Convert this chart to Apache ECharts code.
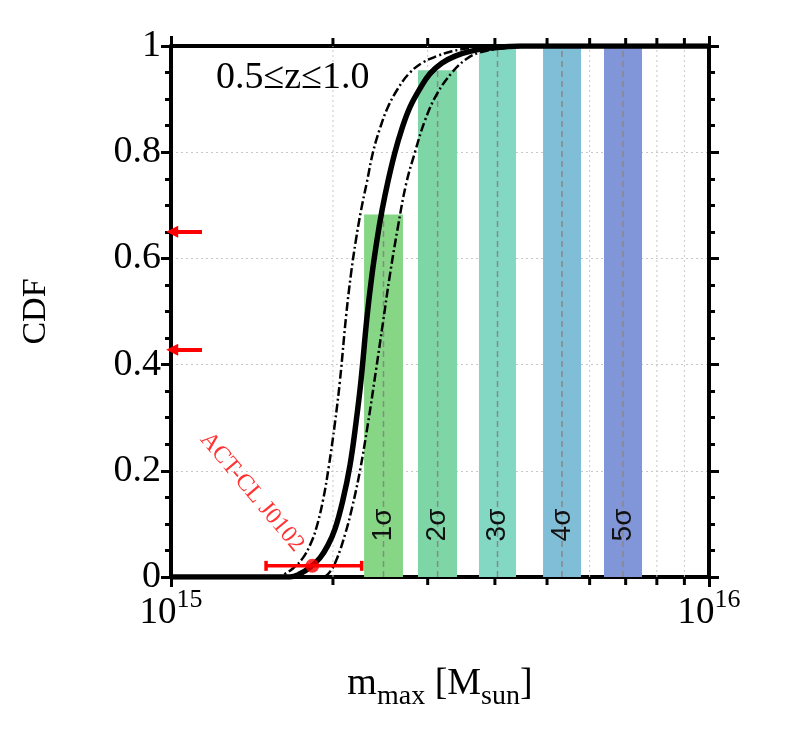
<!DOCTYPE html>
<html>
<head>
<meta charset="utf-8">
<script src="https://cdn.jsdelivr.net/npm/echarts@6/dist/echarts.min.js"></script>
<style>
  html, body { margin: 0; background: #fff; }
  #chart { width: 810px; height: 735px; }
</style>
</head>
<body>
<div id="chart"></div>
<script>
// masses in units of 1e15 Msun
const cdfMid = [[1.0,0],[1.664,0],[1.737,0.006],[1.813,0.018],[1.892,0.036],[1.958,0.06],[2.017,0.09],[2.087,0.145],[2.151,0.21],[2.207,0.29],[2.255,0.37],[2.314,0.49],[2.364,0.57],[2.415,0.635],[2.467,0.69],[2.531,0.745],[2.608,0.80],[2.688,0.845],[2.781,0.885],[2.903,0.92],[3.03,0.948],[3.19,0.968],[3.373,0.981],[3.596,0.99],[3.917,0.996],[4.454,1.0],[10,1.0]]
const cdfLow = [[1.0,0],[1.574,0],[1.629,0.006],[1.693,0.018],[1.759,0.036],[1.813,0.06],[1.86,0.09],[1.917,0.145],[1.966,0.21],[2.017,0.29],[2.061,0.37],[2.115,0.49],[2.16,0.57],[2.207,0.635],[2.255,0.69],[2.314,0.745],[2.374,0.80],[2.446,0.845],[2.531,0.885],[2.642,0.92],[2.769,0.948],[2.928,0.968],[3.122,0.981],[3.329,0.99],[3.596,0.996],[4.088,1.0],[10,1.0]]
const cdfHigh = [[1.0,0],[1.909,0],[1.975,0.01],[2.035,0.035],[2.106,0.08],[2.17,0.13],[2.245,0.20],[2.324,0.29],[2.405,0.39],[2.478,0.48],[2.553,0.57],[2.642,0.66],[2.735,0.74],[2.841,0.80],[2.966,0.86],[3.122,0.91],[3.329,0.95],[3.535,0.975],[3.752,0.988],[4.088,0.995],[4.648,0.999],[5.285,1.0],[10,1.0]]

const sigmaNames = ['1σ','2σ','3σ','4σ','5σ']
const sigmaLo = [2.285, 2.878, 3.736, 4.915, 6.38]
const sigmaHi = [2.699, 3.402, 4.378, 5.782, 7.507]
const sigmaMid = [2.483, 3.13, 4.045, 5.33, 6.92]
const sigmaCdf = [0.6827, 0.9545, 0.9973, 0.99994, 1.0]
const sigmaColors = ['#86d686', '#7ed6a6', '#83d8c4', '#80bed8', '#8096d9']

const minorTicks = [2, 3, 4, 5, 6, 7, 8, 9]

// ACT-CL J0102 point with error bar
const cluster = [1.831, 0.021]
const clusterErr = [1.502, 2.262]
const clusterLabelAt = [1.414, 0.160]

// red arrows on the left
const arrowCdf = [0.650, 0.428]
const arrowFrom = 1.142

const SERIF = 'Liberation Serif'
const chart = echarts.init(document.getElementById('chart'), null, {renderer: 'canvas'})

const axisBase = {
    axisLine: {show: true, onZero: false, lineStyle: {color: '#000', width: 4}},
    axisTick: {show: true, inside: false, length: 10, lineStyle: {color: '#000', width: 3}},
}

const option = {
    animation: false,
    backgroundColor: '#fff',
    title: {
        text: '0.5≤z≤1.0', left: 211, top: 54,
        textStyle: {fontFamily: SERIF, fontSize: 38, fontWeight: 'normal', color: '#000'}
    },
    grid: {left: 171, right: 101, top: 46, bottom: 158},
    xAxis: [{
        type: 'log', logBase: 10, min: 1, max: 10, position: 'bottom',
        ...axisBase,
        splitLine: {show: false},
        axisLabel: {
            margin: 10,
            formatter: v => '{b|10}{s|' + (15 + Math.round(Math.log10(v))) + '}',
            rich: {
                b: {fontFamily: SERIF, fontSize: 37, lineHeight: 52, verticalAlign: 'middle', color: '#000'},
                s: {fontFamily: SERIF, fontSize: 26, lineHeight: 26, verticalAlign: 'top', color: '#000'}
            }
        },
        name: '{i|m}{s|max}{i| [M}{s|sun}{i|]}',
        nameLocation: 'middle', nameGap: 80,
        nameTextStyle: {
            rich: {
                i: {fontFamily: SERIF, fontSize: 38, lineHeight: 54, verticalAlign: 'middle', color: '#000'},
                s: {fontFamily: SERIF, fontSize: 28, lineHeight: 25, verticalAlign: 'bottom', color: '#000'}
            }
        }
    }, {
        type: 'log', logBase: 10, min: 1, max: 10, position: 'top',
        ...axisBase,
        splitLine: {show: false},
        axisLabel: {show: false}
    }],
    yAxis: [{
        type: 'value', min: 0, max: 1, interval: 0.2, position: 'left',
        ...axisBase,
        minorTick: {show: true, splitNumber: 4, length: 6, lineStyle: {color: '#000', width: 3}},
        splitLine: {show: true, lineStyle: {color: '#c8c8c8', width: 1, type: [2, 3]}},
        axisLabel: {margin: 10, fontFamily: SERIF, fontSize: 38, color: '#000'},
        name: 'CDF', nameLocation: 'middle', nameGap: 118,
        nameTextStyle: {fontFamily: SERIF, fontSize: 34, color: '#000'}
    }, {
        type: 'value', min: 0, max: 1, interval: 0.2, position: 'right',
        ...axisBase,
        minorTick: {show: true, splitNumber: 4, length: 6, lineStyle: {color: '#000', width: 3}},
        splitLine: {show: false},
        axisLabel: {show: false}
    }],
    series: [
        {
            // minor log grid lines and ticks
            type: 'custom', silent: true, clip: false, z: 1,
            data: minorTicks.map(v => [v, 0]),
            encode: {x: 0, y: 1},
            renderItem: (params, api) => {
                const v = api.value(0)
                const b = api.coord([v, 0]), t = api.coord([v, 1])
                return {type: 'group', children: [
                    {type: 'line', shape: {x1: b[0], y1: b[1], x2: t[0], y2: t[1]},
                     style: {stroke: '#c8c8c8', lineWidth: 1, lineDash: [2, 3]}},
                    {type: 'line', shape: {x1: b[0], y1: b[1] + 2, x2: b[0], y2: b[1] + 8},
                     style: {stroke: '#000', lineWidth: 3}},
                    {type: 'line', shape: {x1: t[0], y1: t[1] - 2, x2: t[0], y2: t[1] - 8},
                     style: {stroke: '#000', lineWidth: 3}}
                ]}
            }
        },
        {
            // sigma bands
            type: 'custom', silent: true, z: 2,
            data: sigmaLo.map((lo, i) => [lo, sigmaHi[i], sigmaCdf[i], sigmaMid[i], i]),
            encode: {x: [0, 1], y: 2},
            renderItem: (params, api) => {
                const i = api.value(4)
                const p0 = api.coord([api.value(0), api.value(2)])
                const p1 = api.coord([api.value(1), 0])
                const c0 = api.coord([api.value(3), 0])
                const c1 = api.coord([api.value(3), api.value(2)])
                const tp = api.coord([api.value(3), 0.098])
                return {type: 'group', children: [
                    {type: 'rect', shape: {x: p0[0], y: p0[1], width: p1[0] - p0[0], height: p1[1] - p0[1]},
                     style: {fill: sigmaColors[i]}},
                    {type: 'line', shape: {x1: c0[0], y1: c0[1], x2: c1[0], y2: c1[1]},
                     style: {stroke: '#888', lineWidth: 1.5, lineDash: [6, 4]}},
                    {type: 'text', x: tp[0], y: tp[1], rotation: Math.PI / 2,
                     style: {text: sigmaNames[i], fill: '#111', font: '28px "Liberation Sans"',
                             align: 'center', verticalAlign: 'middle'}}
                ]}
            }
        },
        {
            type: 'line', name: 'low', data: cdfLow, showSymbol: false, silent: true, z: 3,
            smooth: 0.4,
            lineStyle: {color: '#000', width: 2.5, type: [9, 3, 2, 3]}
        },
        {
            type: 'line', name: 'high', data: cdfHigh, showSymbol: false, silent: true, z: 3,
            smooth: 0.4,
            lineStyle: {color: '#000', width: 2.5, type: [9, 3, 2, 3]}
        },
        {
            type: 'line', name: 'mid', data: cdfMid, showSymbol: false, silent: true, z: 4,
            smooth: 0.4,
            lineStyle: {color: '#000', width: 5.5},
            markLine: {
                silent: true, symbol: ['none', 'triangle'], symbolSize: [12, 12],
                label: {show: false},
                lineStyle: {color: '#ff0000', width: 4, type: 'solid'},
                data: arrowCdf.map(y => [{coord: [arrowFrom, y]}, {coord: [1.005, y]}])
            }
        },
        {
            // ACT-CL J0102 error bar
            type: 'custom', silent: true, clip: false, z: 5,
            data: [[cluster[0], cluster[1], clusterErr[0], clusterErr[1]]],
            encode: {x: 0, y: 1},
            renderItem: (params, api) => {
                const l = api.coord([api.value(2), api.value(1)])
                const r = api.coord([api.value(3), api.value(1)])
                const st = {stroke: '#ff0000', lineWidth: 3.5}
                return {type: 'group', children: [
                    {type: 'line', shape: {x1: l[0], y1: l[1], x2: r[0], y2: r[1]}, style: st},
                    {type: 'line', shape: {x1: l[0], y1: l[1] - 5, x2: l[0], y2: l[1] + 5}, style: st},
                    {type: 'line', shape: {x1: r[0], y1: r[1] - 5, x2: r[0], y2: r[1] + 5}, style: st}
                ]}
            }
        },
        {
            type: 'scatter', silent: true, z: 6,
            data: [cluster], symbol: 'circle', symbolSize: 14,
            itemStyle: {color: '#ff0000'}
        },
        {
            type: 'scatter', silent: true, z: 6,
            data: [clusterLabelAt], symbolSize: 0,
            label: {
                show: true, position: 'inside', rotate: -50,
                formatter: 'ACT-CL J0102',
                fontFamily: SERIF, fontSize: 24, color: '#ff0000'
            }
        }
    ]
}

chart.setOption(option)
</script>
</body>
</html>
